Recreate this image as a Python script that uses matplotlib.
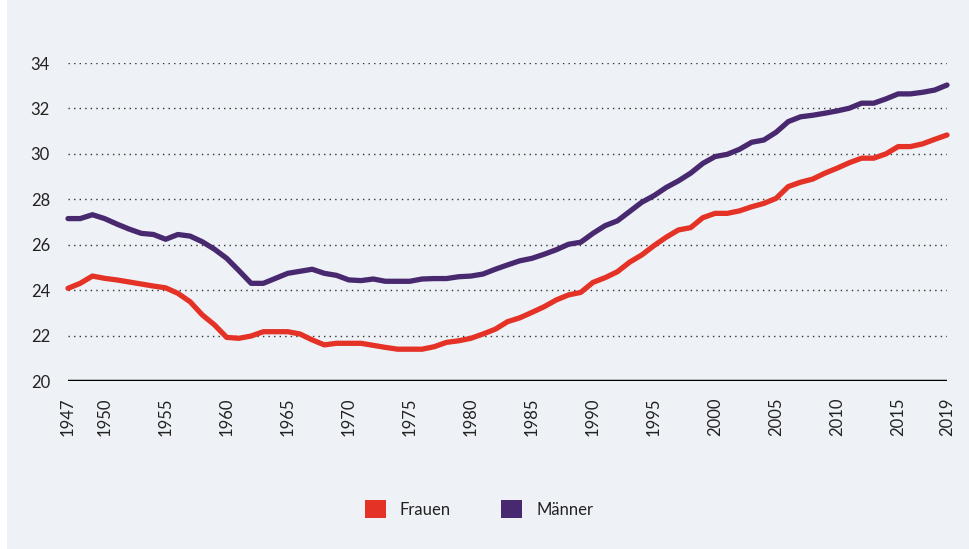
import matplotlib.pyplot as plt
from matplotlib.patches import Patch, Rectangle

years = list(range(1947, 2020))

frauen = [24.08, 24.30, 24.62, 24.52, 24.45, 24.36, 24.27, 24.18, 24.10, 23.86,
          23.49, 22.91, 22.47, 21.92, 21.88, 21.98, 22.17, 22.17, 22.17, 22.07,
          21.81, 21.59, 21.66, 21.66, 21.66, 21.57, 21.48, 21.40, 21.40, 21.40,
          21.51, 21.70, 21.77, 21.88, 22.07, 22.28, 22.61, 22.78, 23.02, 23.27,
          23.57, 23.79, 23.90, 24.34, 24.55, 24.81, 25.23, 25.55, 25.96, 26.33,
          26.65, 26.75, 27.19, 27.38, 27.38, 27.49, 27.67, 27.82, 28.04, 28.56,
          28.75, 28.89, 29.15, 29.37, 29.61, 29.81, 29.81, 30.00, 30.32, 30.32,
          30.44, 30.64, 30.83]

maenner = [27.15, 27.15, 27.32, 27.15, 26.91, 26.69, 26.50, 26.45, 26.24, 26.45,
           26.38, 26.13, 25.80, 25.40, 24.86, 24.30, 24.30, 24.52, 24.74, 24.83,
           24.92, 24.74, 24.65, 24.45, 24.42, 24.49, 24.39, 24.39, 24.39, 24.49,
           24.51, 24.51, 24.59, 24.62, 24.71, 24.92, 25.11, 25.29, 25.40, 25.58,
           25.78, 26.02, 26.11, 26.50, 26.84, 27.05, 27.46, 27.87, 28.16, 28.52,
           28.81, 29.15, 29.58, 29.88, 29.98, 30.20, 30.51, 30.61, 30.95, 31.42,
           31.63, 31.70, 31.79, 31.89, 32.01, 32.23, 32.23, 32.42, 32.64, 32.64,
           32.71, 32.81, 33.03]

xticks = [1947, 1950, 1955, 1960, 1965, 1970, 1975, 1980, 1985, 1990,
          1995, 2000, 2005, 2010, 2015, 2019]
yticks = [20, 22, 24, 26, 28, 30, 32, 34]

rot = '#e43226'
lila = '#48286e'
hg = '#eef2f6'

plt.rcParams['font.family'] = ['Lato', 'DejaVu Sans']

fig = plt.figure(figsize=(9.7, 5.49), dpi=100)
fig.patch.set_facecolor(hg)
fig.patches.append(Rectangle((0, 0), 7 / 970, 1, transform=fig.transFigure,
                             facecolor='white', edgecolor='none'))

ax = fig.add_axes([68 / 970, 1 - 381 / 549, 879 / 970, 318 / 549])
ax.set_facecolor(hg)

# gitterlinien
for y in yticks[1:]:
    ax.axhline(y, color='#333333', linestyle=(0, (1, 3)), linewidth=1, zorder=1)
ax.axhline(20, color='black', linewidth=2.5, zorder=2)

ax.plot(years, frauen, color=rot, linewidth=3.8, solid_capstyle='round',
        solid_joinstyle='round', zorder=3, clip_on=False)
ax.plot(years, maenner, color=lila, linewidth=3.8, solid_capstyle='round',
        solid_joinstyle='round', zorder=3, clip_on=False)

ax.set_xlim(1947, 2019)
ax.set_ylim(20, 34)
ax.set_yticks(yticks)
ax.set_xticks(xticks)
ax.set_xticklabels([str(t) for t in xticks], rotation=90)
ax.tick_params(axis='y', length=0, pad=13, labelsize=12, labelcolor='#222222')
ax.tick_params(axis='x', length=0, pad=12, labelsize=12, labelcolor='#222222')
for s in ax.spines.values():
    s.set_visible(False)

handles = [Patch(facecolor=rot, edgecolor='none', label='Frauen'),
           Patch(facecolor=lila, edgecolor='none', label='Männer')]
fig.legend(handles=handles, loc='center', bbox_to_anchor=(479 / 970, 1 - 509 / 549),
           ncol=2, frameon=False, fontsize=12, handlelength=1.26, handleheight=1.26,
           handletextpad=0.85, columnspacing=3.0, labelcolor='#222222')

plt.savefig('out.png', dpi=100, facecolor=fig.get_facecolor())
